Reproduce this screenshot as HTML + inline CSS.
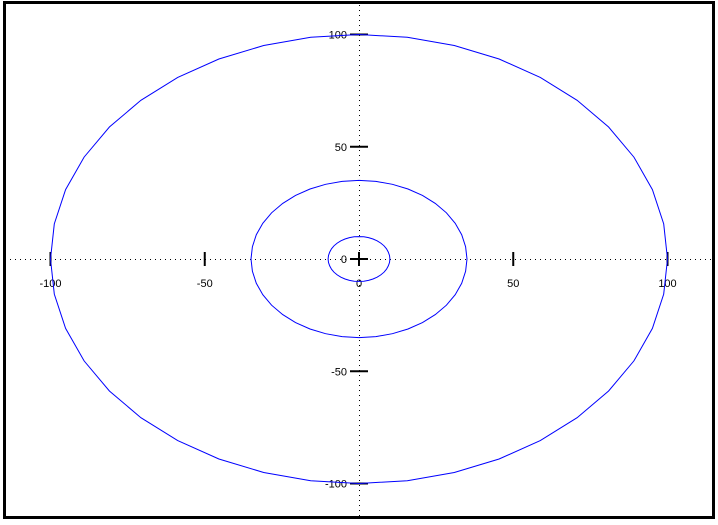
<!DOCTYPE html>
<html><head><meta charset="utf-8"><style>
body{margin:0;background:#fff}
svg text{font-family:"Liberation Sans",sans-serif;font-size:11px;fill:#000}
</style></head><body>
<svg id="chart" width="718" height="520" xmlns="http://www.w3.org/2000/svg">
<rect x="4.5" y="2.5" width="709" height="515" fill="none" stroke="#000" stroke-width="3"/>
<g id="axes"></g><g id="series"></g>
</svg>
<script>
const radii=[100,35,10];
const xTicks=[-100,-50,0,50,100];
const yTicks=[-100,-50,0,50,100];
const segments=40;
const ns="http://www.w3.org/2000/svg";
const cx=359,cy=259,sx=3.085,sy=2.245;
const X=v=>cx+v*sx, Y=v=>cy-v*sy;
const axes=document.getElementById('axes'), series=document.getElementById('series');
function mk(tag,attrs,parent){const e=document.createElementNS(ns,tag);for(const k in attrs)e.setAttribute(k,attrs[k]);parent.appendChild(e);return e;}
let e=mk('line',{x1:10,x2:712,y1:cy+0.5,y2:cy+0.5,stroke:'#000','stroke-dasharray':'1,4'},axes);


e=mk('line',{x1:cx+0.5,x2:cx+0.5,y1:5,y2:516,stroke:'#000','stroke-dasharray':'1,4'},axes);


xTicks.forEach(t=>{
  const x=X(t);
  let l=mk('line',{x1:x,x2:x,y1:252,y2:266,stroke:'#000','stroke-width':2},axes);
  
  
  let tx=mk('text',{x:x,y:287,'text-anchor':'middle'},axes);tx.textContent=t;
  
  
});
yTicks.forEach(t=>{
  const y=Y(t);
  let l=mk('line',{x1:350,x2:368,y1:y,y2:y,stroke:'#000','stroke-width':2},axes);
  
  
  let tx=mk('text',{x:347,y:y+4,'text-anchor':'end'},axes);tx.textContent=t;
  
  
});
radii.forEach(r=>{
  const pts=[];
  for(let i=0;i<=segments;i++){const a=2*Math.PI*i/segments;pts.push(X(r*Math.cos(a)).toFixed(1)+','+Y(r*Math.sin(a)).toFixed(1));}
  const p=mk('polyline',{points:pts.join(' '),fill:'none',stroke:'#0000ff','stroke-width':1},series);
  
  
});
</script>
</body></html>
